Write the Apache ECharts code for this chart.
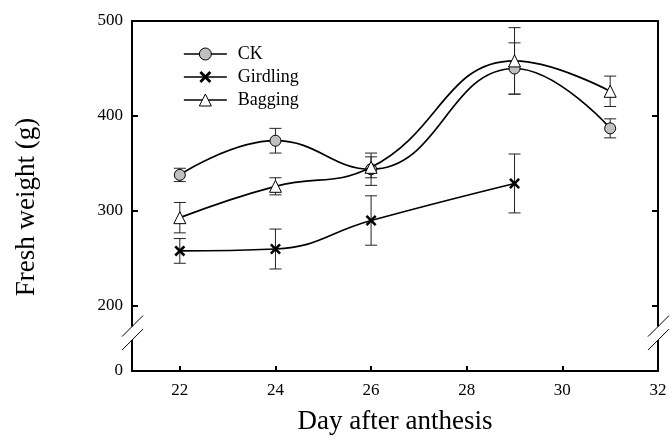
<!DOCTYPE html>
<html>
<head>
<meta charset="utf-8">
<script src="https://cdn.jsdelivr.net/npm/echarts@6/dist/echarts.min.js"></script>
<style>html,body{margin:0;padding:0;background:#fff}#c{width:670px;height:441px}</style>
</head>
<body>
<div id="c"></div>
<script>
// ---- data ----
const days = [22, 24, 26, 29, 31];
const ckMean = [338, 374, 344, 450, 387];
const ckErr = [7, 13, 17, 27, 10];
const girdDays = [22, 24, 26, 29];
const girdMean = [258, 260, 290, 329];
const girdErr = [13, 21, 26, 31];
const bagMean = [293, 326, 346, 458, 426];
const bagErr = [16, 9, 11, 35, 16];
const xTicks = [22, 24, 26, 28, 30, 32];
const yTicks = [200, 300, 400, 500];
// axis break: value 0 is drawn at this position of the linear scale
const Y_ZERO_POS = 131.6;
const BREAK_POS = 171.5;

const FONT = "'Liberation Serif','Times New Roman',serif";
const chart = echarts.init(document.getElementById('c'), null, {renderer: 'canvas'});

function pts(xs, ys) { return xs.map((x, i) => [x, ys[i]]); }
function errs(xs, ys, es) { return xs.map((x, i) => [x, ys[i] - es[i], ys[i] + es[i]]); }

function errSeries(xs, ys, es) {
  return {
    type: 'custom', xAxisIndex: 0, yAxisIndex: 0, z: 1, silent: true,
    data: errs(xs, ys, es),
    renderItem: function (params, api) {
      const lo = api.coord([api.value(0), api.value(1)]);
      const hi = api.coord([api.value(0), api.value(2)]);
      const w = 6;
      const st = {stroke: '#222', lineWidth: 1};
      return {type: 'group', children: [
        {type: 'line', shape: {x1: lo[0], y1: lo[1], x2: hi[0], y2: hi[1]}, style: st},
        {type: 'line', shape: {x1: lo[0] - w, y1: lo[1], x2: lo[0] + w, y2: lo[1]}, style: st},
        {type: 'line', shape: {x1: hi[0] - w, y1: hi[1], x2: hi[0] + w, y2: hi[1]}, style: st}
      ]};
    }
  };
}

const xPath = 'path://M0,2 L2,0 L6,4 L10,0 L12,2 L8,6 L12,10 L10,12 L6,8 L2,12 L0,10 L4,6 Z';
const lineStyle = {color: '#000', width: 1.7};

const option = {
  animation: false,
  textStyle: {fontFamily: FONT},
  grid: {left: 132, right: 12, top: 21, bottom: 70, containLabel: false},
  legend: {
    orient: 'vertical', left: 183, top: 45, padding: 0, itemWidth: 43, itemHeight: 15, itemGap: 5,
    data: ['CK', 'Girdling', 'Bagging'],
    lineStyle: {width: 1.7},
    itemStyle: {borderWidth: 1},
    textStyle: {fontFamily: FONT, fontSize: 18, color: '#000', padding: [0, 0, 0, 6]}
  },
  xAxis: [{
    type: 'value', min: 21, max: 32, position: 'bottom',
    axisLine: {show: true, lineStyle: {color: '#000', width: 2}},
    axisTick: {show: true, inside: true, length: 5, customValues: xTicks, lineStyle: {color: '#000', width: 2}},
    axisLabel: {customValues: xTicks, fontFamily: FONT, fontSize: 17, color: '#000', margin: 11},
    splitLine: {show: false},
    name: 'Day after anthesis', nameLocation: 'middle', nameGap: 37,
    nameTextStyle: {fontFamily: FONT, fontSize: 27, color: '#000'}
  }, {
    type: 'value', min: 21, max: 32, position: 'top',
    axisLine: {show: true, lineStyle: {color: '#000', width: 2}},
    axisTick: {show: false}, axisLabel: {show: false}, splitLine: {show: false}
  }],
  yAxis: [{
    type: 'value', min: Y_ZERO_POS, max: 500, position: 'left',
    axisLine: {show: true, lineStyle: {color: '#000', width: 2}},
    axisTick: {show: true, inside: true, length: 6, customValues: yTicks, lineStyle: {color: '#000', width: 2}},
    axisLabel: {
      customValues: [Y_ZERO_POS].concat(yTicks), fontFamily: FONT, fontSize: 17, color: '#000', margin: 9,
      showMinLabel: true, showMaxLabel: true,
      formatter: function (v) { return v < 199 ? '0' : String(Math.round(v)); }
    },
    splitLine: {show: false},
    name: 'Fresh weight (g)', nameLocation: 'middle', nameGap: 92,
    nameTextStyle: {fontFamily: FONT, fontSize: 27, color: '#000', padding: [0, 22, 0, 0]}
  }, {
    type: 'value', min: Y_ZERO_POS, max: 500, position: 'right',
    axisLine: {show: true, lineStyle: {color: '#000', width: 2}},
    axisTick: {show: true, inside: true, length: 6, customValues: yTicks, lineStyle: {color: '#000', width: 2}},
    axisLabel: {show: false}, splitLine: {show: false}
  }],
  series: [
    errSeries(days, ckMean, ckErr),
    errSeries(girdDays, girdMean, girdErr),
    errSeries(days, bagMean, bagErr),
    {
      name: 'CK', type: 'line', smooth: 0.45, z: 3, data: pts(days, ckMean),
      symbol: 'circle', symbolSize: 11,
      itemStyle: {color: '#c0c0c0', borderColor: '#000', borderWidth: 1},
      lineStyle: lineStyle
    },
    {
      name: 'Girdling', type: 'line', smooth: 0.45, z: 3, data: pts(girdDays, girdMean),
      symbol: xPath, symbolSize: 11,
      itemStyle: {color: '#000', borderWidth: 0},
      lineStyle: lineStyle
    },
    {
      name: 'Bagging', type: 'line', smooth: 0.45, z: 4, data: pts(days, bagMean),
      symbol: 'triangle', symbolSize: 12,
      itemStyle: {color: '#fff', borderColor: '#000', borderWidth: 1},
      lineStyle: lineStyle
    }
  ]
};
chart.setOption(option);

// axis break marks on left and right axes
function breakMarks() {
  const yc = chart.convertToPixel({yAxisIndex: 0}, BREAK_POS);
  const xs = [chart.convertToPixel({xAxisIndex: 0}, 21), chart.convertToPixel({xAxisIndex: 0}, 32)];
  const els = [];
  xs.forEach(function (x) {
    els.push({type: 'rect', z: 100, shape: {x: x - 3, y: yc - 6.5, width: 6, height: 13.5}, style: {fill: '#fff'}});
    els.push({type: 'line', z: 101, shape: {x1: x - 10, y1: yc + 3.5, x2: x + 11, y2: yc - 17.5}, style: {stroke: '#000', lineWidth: 1}});
    els.push({type: 'line', z: 101, shape: {x1: x - 10, y1: yc + 17, x2: x + 11, y2: yc - 4}, style: {stroke: '#000', lineWidth: 1}});
  });
  chart.setOption({graphic: {elements: els}});
}
breakMarks();
</script>
</body>
</html>
